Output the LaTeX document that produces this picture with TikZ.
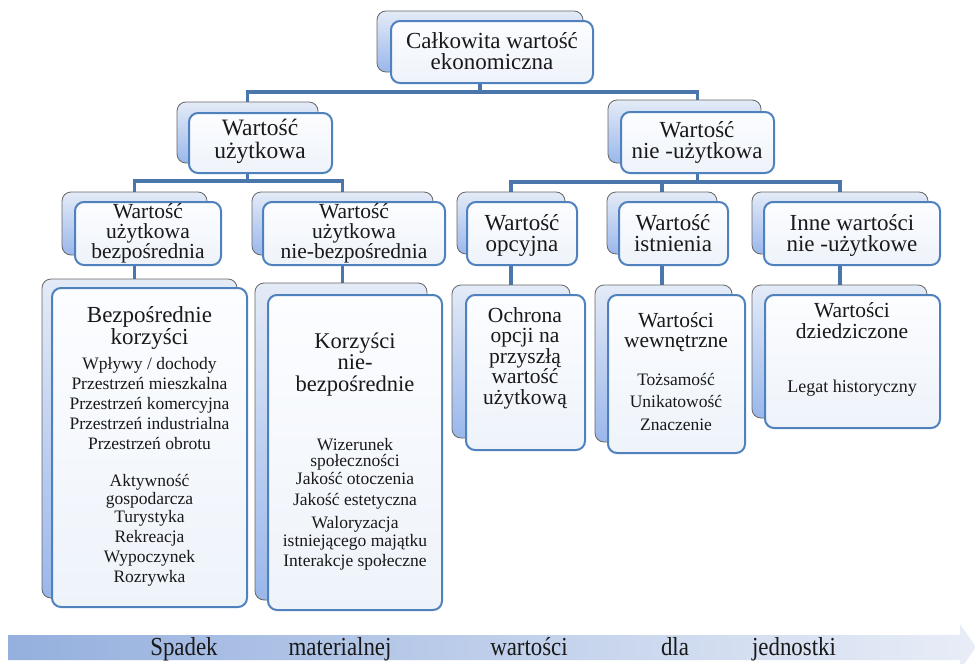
\documentclass[tikz,border=0pt]{standalone}
\usepackage{fontspec}
\setmainfont{Liberation Serif}
\newfontfamily\bandfont[FakeStretch=0.88]{Liberation Serif}
\usetikzlibrary{backgrounds}

\definecolor{linkblue}{HTML}{4A76AC}
\definecolor{frameblue}{HTML}{4F81BD}
\definecolor{shadetop}{HTML}{E4EBF7}
\definecolor{shadebot}{HTML}{9AB7EB}
\definecolor{paneltop}{HTML}{FCFDFF}
\definecolor{panelbot}{HTML}{EEF3FA}
\definecolor{bandleft}{HTML}{95B0DE}
\definecolor{bandright}{HTML}{E8EDF7}

\newcommand\fsz[2]{\fontsize{#1}{#2}\selectfont}

\begin{document}
% multi-line labels are placed by the baseline of their last line
\begin{tikzpicture}[x=1pt,y=-1pt,
  backbox/.style={draw=black!60, line width=0.8pt, rounded corners=9pt,
    top color=shadetop, bottom color=shadebot, anchor=north west,
    inner sep=0pt, outer sep=0pt},
  frontbox/.style={draw=frameblue, line width=2pt, rounded corners=9pt,
    top color=paneltop, bottom color=panelbot, anchor=north west,
    inner sep=0pt, outer sep=0pt},
  link/.style={draw=linkblue, line width=3.5pt},
  label/.style={inner sep=0pt, align=center, anchor=base, text=black!90},
  head/.style={label, font=\fsz{23}{21}},
  sub/.style={label, font=\fsz{21.5}{20.5}},
  item/.style={label, font=\fsz{17.5}{20}},
  bandtext/.style={inner sep=0pt, anchor=base, text=black!90, font=\bandfont\fsz{26}{26}}]

\useasboundingbox (0,0) rectangle (975,664);
\clip (0,0) rectangle (975,664);

% ---- level 1
\node[backbox, minimum width=206pt, minimum height=61pt] (topB) at (377,11) {};
\node[frontbox, minimum width=202pt, minimum height=62pt] (topF) at (391,21) {};
\node[head] (topT) at (492,69) {Całkowita wartość\\ekonomiczna};

% ---- level 2
\node[backbox, minimum width=141pt, minimum height=61pt] (useB) at (177,102) {};
\node[frontbox, minimum width=143pt, minimum height=60pt] (useF) at (189,113) {};
\node[head, font=\fsz{23.5}{23}] (useT) at (260,158) {Wartość\\użytkowa};

\node[backbox, minimum width=153pt, minimum height=63pt] (nonB) at (608,100) {};
\node[frontbox, minimum width=153pt, minimum height=61pt] (nonF) at (621,112) {};
\node[head] (nonT) at (697,158) {Wartość\\nie -użytkowa};

% ---- level 3
\node[backbox, minimum width=145pt, minimum height=63pt] (dirB) at (62,192) {};
\node[frontbox, minimum width=146pt, minimum height=63pt] (dirF) at (75,202) {};
\node[sub, font=\fsz{21.5}{20}] (dirT) at (148,258) {Wartość\\użytkowa\\bezpośrednia};

\node[backbox, minimum width=181pt, minimum height=63pt] (indB) at (252,192) {};
\node[frontbox, minimum width=182pt, minimum height=63pt] (indF) at (263,202) {};
\node[sub, font=\fsz{21.5}{20}] (indT) at (354,258) {Wartość\\użytkowa\\nie-bezpośrednia};

\node[backbox, minimum width=108pt, minimum height=62pt] (opcB) at (457,192) {};
\node[frontbox, minimum width=110pt, minimum height=63pt] (opcF) at (467,202) {};
\node[head] (opcT) at (522,251) {Wartość\\opcyjna};

\node[backbox, minimum width=110pt, minimum height=62pt] (istB) at (607,192) {};
\node[frontbox, minimum width=109pt, minimum height=63pt] (istF) at (619,202) {};
\node[head] (istT) at (673,251) {Wartość\\istnienia};

\node[backbox, minimum width=176pt, minimum height=62pt] (inneB) at (752,192) {};
\node[frontbox, minimum width=176pt, minimum height=63pt] (inneF) at (764,202) {};
\node[head] (inneT) at (852,251) {Inne wartości\\nie -użytkowe};

% ---- level 4: direct benefits
\node[backbox, minimum width=195pt, minimum height=319pt] (bezB) at (42,279) {};
\node[frontbox, minimum width=195pt, minimum height=319pt] (bezF) at (52,288) {};
\node[head, font=\fsz{23}{20.5}] (bezT) at (149.5,344.5) {Bezpośrednie\\korzyści};
\node[item, font=\fsz{17.5}{20}] (bezI1) at (149.5,449) {Wpływy / dochody\\Przestrzeń mieszkalna\\Przestrzeń komercyjna\\Przestrzeń industrialna\\Przestrzeń obrotu};
\node[item, font=\fsz{17.5}{18}] (bezI2) at (149.5,504) {Aktywność\\gospodarcza};
\node[item, font=\fsz{17.5}{19.7}] (bezI3) at (149.5,582) {Turystyka\\Rekreacja\\Wypoczynek\\Rozrywka};

% ---- level 4: indirect benefits
\node[backbox, minimum width=172pt, minimum height=317pt] (korB) at (255,283) {};
\node[frontbox, minimum width=174pt, minimum height=315pt] (korF) at (268,295) {};
\node[head, font=\fsz{22.5}{21.5}] (korT) at (355,391) {Korzyści\\nie-\\bezpośrednie};
\node[item, font=\fsz{17.5}{16}] (korI1) at (355,466) {Wizerunek\\społeczności};
\node[item] (korI2) at (355,484) {Jakość otoczenia};
\node[item] (korI3) at (355,505) {Jakość estetyczna};
\node[item, font=\fsz{17.5}{18}] (korI4) at (355,546) {Waloryzacja\\istniejącego majątku};
\node[item] (korI5) at (355,566) {Interakcje społeczne};

% ---- level 4: option value
\node[backbox, minimum width=118pt, minimum height=153pt] (ochB) at (452,285) {};
\node[frontbox, minimum width=119pt, minimum height=155pt] (ochF) at (466,295) {};
\node[sub] (ochT) at (525,404) {Ochrona\\opcji na\\przyszłą\\wartość\\użytkową};

% ---- level 4: existence value
\node[backbox, minimum width=137pt, minimum height=157pt] (wewB) at (595,285) {};
\node[frontbox, minimum width=137pt, minimum height=158pt] (wewF) at (608,295) {};
\node[sub, font=\fsz{21.5}{20}] (wewT) at (676,347) {Wartości\\wewnętrzne};
\node[item, font=\fsz{17.5}{22.5}] (wewI) at (676,430) {Tożsamość\\Unikatowość\\Znaczenie};

% ---- level 4: bequest value
\node[backbox, minimum width=175pt, minimum height=133pt] (dziB) at (752,285) {};
\node[frontbox, minimum width=175pt, minimum height=133pt] (dziF) at (765,295) {};
\node[sub, font=\fsz{21.5}{21}] (dziT) at (852,338) {Wartości\\dziedziczone};
\node[item, font=\fsz{18}{20}] (dziI) at (852,392) {Legat historyczny};

% ---- connectors, behind the boxes
\begin{scope}[on background layer]
  \coordinate (b1) at (480,92);
  \path (useB.south) ++(0,18) coordinate (b2);
  \path (nonF.south) ++(0,9) coordinate (b3);
  \coordinate (nonS) at (nonF.north |- nonB.north);

  \draw[link] (topB.south) -- (b1);
  \draw[link] (useB.north) |- (b1) -| (nonS);

  \draw[link] (useB.south) -- (b2);
  \draw[link] (dirB.north) |- (b2) -| (indB.north);

  \draw[link] (nonF.south) -- (b3);
  \draw[link] (opcB.north) |- (b3) -| (inneB.north);
  \draw[link] (istB.north) -- (istB.north |- b3);

  \draw[link] (dirB.south) -- (dirB.south |- bezB.north);
  \draw[link] (indB.south) -- (indB.south |- korB.north);
  \draw[link] (opcB.south) -- (opcB.south |- ochB.north);
  \draw[link] (istB.south) -- (istB.south |- wewB.north);
  \draw[link] (inneB.south) -- (inneB.south |- dziB.north);
\end{scope}

% ---- bottom band arrow
\path[left color=bandleft, right color=bandright]
  (8,635) -- (960,635) -- (960,624) -- (976,647) -- (960,670) -- (960,660) -- (8,660) -- cycle;
\node[bandtext] (w1) at (184,655) {Spadek};
\node[bandtext] (w2) at (340,655) {materialnej};
\node[bandtext] (w3) at (529,655) {wartości};
\node[bandtext] (w4) at (675,655) {dla};
\node[bandtext] (w5) at (794,655) {jednostki};

\end{tikzpicture}
\end{document}
